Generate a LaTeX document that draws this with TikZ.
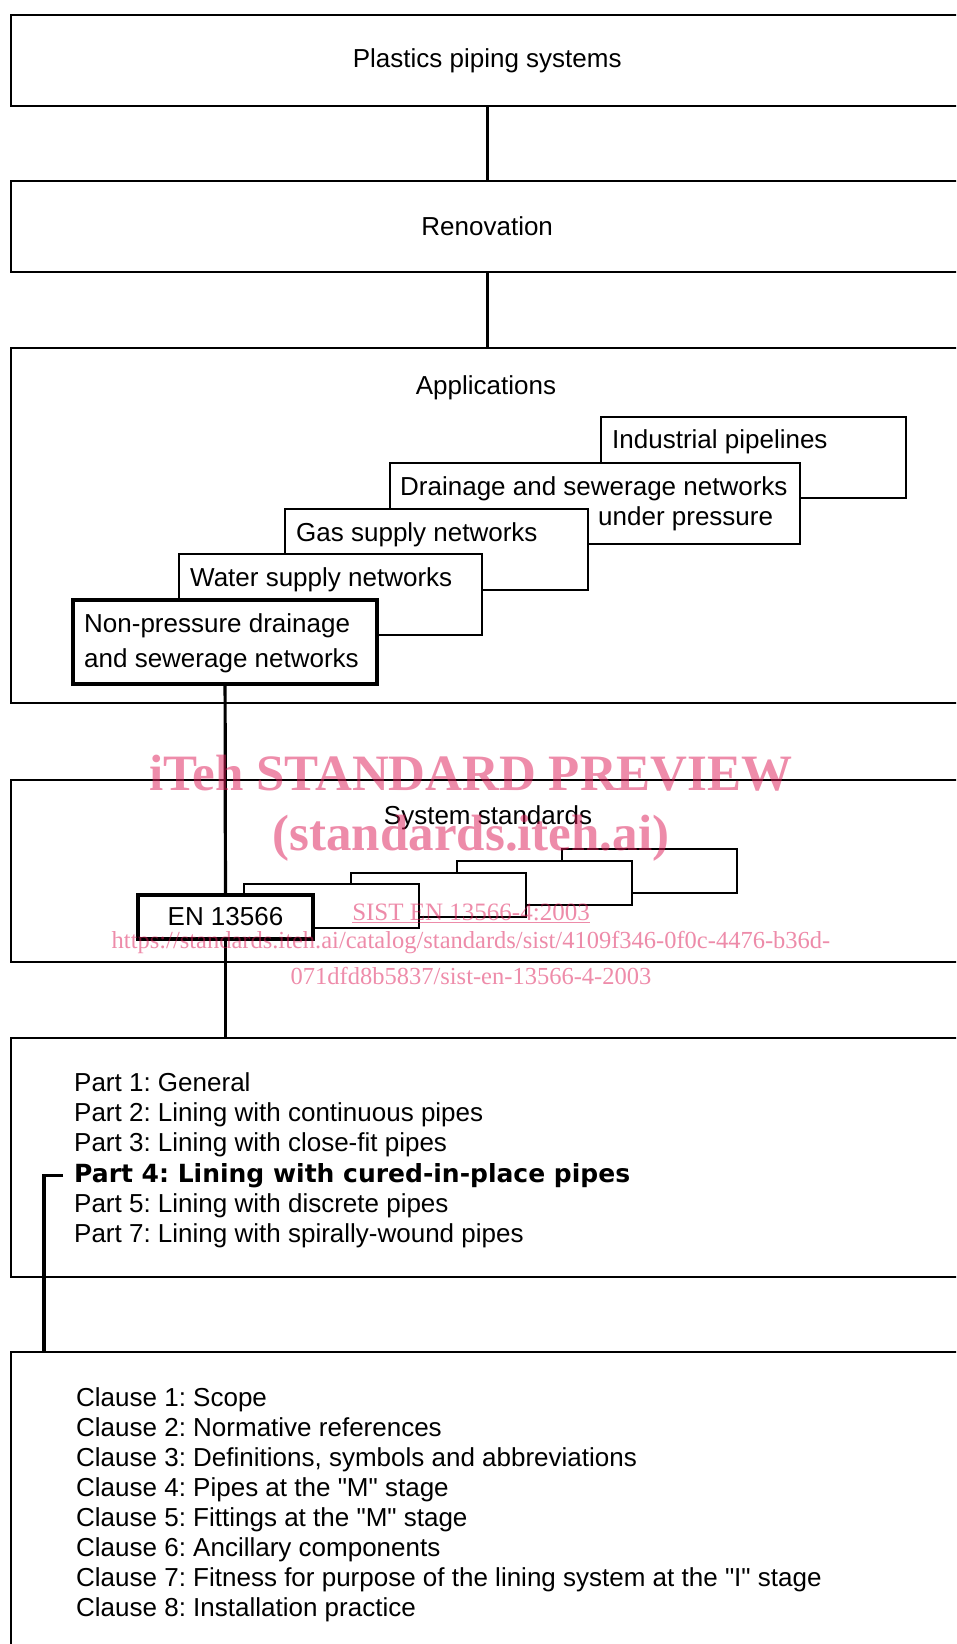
\documentclass[tikz,border=0pt]{standalone}
\usepackage{fontspec}
\setmainfont{Liberation Sans}
\newfontfamily\wmfont{Liberation Serif}
\newfontfamily\heavyfont{DejaVu Sans}
\definecolor{wmpink}{RGB}{221,25,85}
\newcommand\stage[1]{\textquotedbl#1\textquotedbl}
\frenchspacing

\begin{document}
\begin{tikzpicture}[
    x=1pt, y=-1pt,
    % Box styles (levels, cards and text)
    level/.style={draw, fill=white, line width=2.4pt, font=\fontsize{26}{30}\selectfont, minimum width=952pt, minimum height=#1, inner sep=0pt, anchor=north west},
    level/.default=91pt,
    card/.style={draw, fill=white, line width=2.2pt, minimum width=#1, minimum height=81pt, inner sep=0pt, anchor=north west},
    card/.default=303pt,
    stdcard/.style={draw, fill=white, line width=2.2pt, font=\fontsize{26}{30}\selectfont, minimum width=175pt, minimum height=44pt, inner sep=0pt, anchor=north west},
    chosen/.style={line width=4pt},
    txt/.style={font=\fontsize{26}{30}\selectfont, inner sep=0pt, anchor=base west},
    link/.style={line width=3.2pt, line join=miter},
    wmark/.style={font=\wmfont\fontsize{#1}{#1}\selectfont, text=wmpink, text opacity=0.5, inner sep=0pt, anchor=base}
]
\useasboundingbox (0,0) rectangle (956,1644);
\clip (0,0) rectangle (956,1644);

% ---------------------------------------------------------
% 1. LEVEL BOXES (full width)
% ---------------------------------------------------------
\node[level] (plastics) at (10,14) {Plastics piping systems};
\node[level] (renov) at (10,180) {Renovation};
\node[level=355pt] (apps) at (10,347) {};
\node[txt, anchor=base] (appslbl) at (486,394) {Applications};
\node[level=182pt] (sys) at (10,779) {};
\node[txt, anchor=base] (syslbl) at (488,824) {System standards};
\node[level=239pt] (parts) at (10,1037) {};
\node[level=330pt] (clauses) at (10,1351) {};

% ---------------------------------------------------------
% 2. APPLICATION CARDS (back to front)
% ---------------------------------------------------------
\node[card=305pt] (ind) at (600,416) {};
\node[txt] at ([xshift=12pt, yshift=-32pt]ind.north west) {Industrial pipelines};

\node[card=410pt] (drain) at (389,462) {};
\node[txt] at ([xshift=11pt, yshift=-33pt]drain.north west) {Drainage and sewerage networks};
\node[txt] at ([xshift=209pt, yshift=-63pt]drain.north west) {under pressure};

\node[card] (gas) at (284,508) {};
\node[txt] at ([xshift=12pt, yshift=-33pt]gas.north west) {Gas supply networks};

\node[card] (water) at (178,553) {};
\node[txt] at ([xshift=12pt, yshift=-33pt]water.north west) {Water supply networks};

\node[card=304pt, chosen, minimum height=84pt] (nonpress) at (71,598) {};
\node[txt] at ([xshift=13pt, yshift=-34pt]nonpress.north west) {Non-pressure drainage};
\node[txt] at ([xshift=13pt, yshift=-69pt]nonpress.north west) {and sewerage networks};

% ---------------------------------------------------------
% 3. SYSTEM STANDARD CARDS
% ---------------------------------------------------------
\foreach \i/\x/\y in {5/561/848, 4/456/860, 3/350/872, 2/243/883}
    \node[stdcard] (std\i) at (\x,\y) {};
\node[stdcard, chosen] (en) at (136,893) {EN 13566};

% ---------------------------------------------------------
% 4. PARTS AND CLAUSES
% ---------------------------------------------------------
\node[txt] (part1) at (74,1091.5) {Part 1: General};
\node[txt] (part2) at (74,1121.7) {Part 2: Lining with continuous pipes};
\node[txt] (part3) at (74,1151.9) {Part 3: Lining with close-fit pipes};
\node[txt, font=\heavyfont\bfseries\fontsize{25}{30}\selectfont] (part4) at (74,1182) {Part 4: Lining with cured-in-place pipes};
\node[txt] (part5) at (74,1212.3) {Part 5: Lining with discrete pipes};
\node[txt] (part7) at (74,1242.5) {Part 7: Lining with spirally-wound pipes};

\foreach \txt [count=\i] in {Clause 1: Scope, Clause 2: Normative references,
    {Clause 3: Definitions, symbols and abbreviations}, Clause 4: Pipes at the \stage{M} stage,
    Clause 5: Fittings at the \stage{M} stage, Clause 6: Ancillary components,
    Clause 7: Fitness for purpose of the lining system at the \stage{I} stage, Clause 8: Installation practice}
    \node[txt] (clause\i) at (76,{1376+30*\i}) {\txt};

% ---------------------------------------------------------
% 5. CONNECTORS
% ---------------------------------------------------------
\draw[link] (plastics) -- (renov);
\draw[link] (renov) -- (apps);
\draw[link] (nonpress) -- (en);
\draw[link] (en) -- (en |- parts.north);
\draw[link] ([xshift=-11pt]part4.west) -| ([xshift=34pt]clauses.north west);

% ---------------------------------------------------------
% 6. WATERMARK
% ---------------------------------------------------------
\node[wmark=51] (wmtitle) at (471,790) {\bfseries iTeh STANDARD PREVIEW};
\node[wmark=51] (wmsite) at (471,850) {\bfseries (standards.iteh.ai)};
\node[wmark=25] (wmcode) at (471,920) {\underline{SIST EN 13566-4:2003}};
\node[wmark=24.5] (wmurl) at (471,948) {https://standards.iteh.ai/catalog/standards/sist/4109f346-0f0c-4476-b36d-};
\node[wmark=24.5] (wmurl2) at (471,984) {071dfd8b5837/sist-en-13566-4-2003};

\end{tikzpicture}
\end{document}
